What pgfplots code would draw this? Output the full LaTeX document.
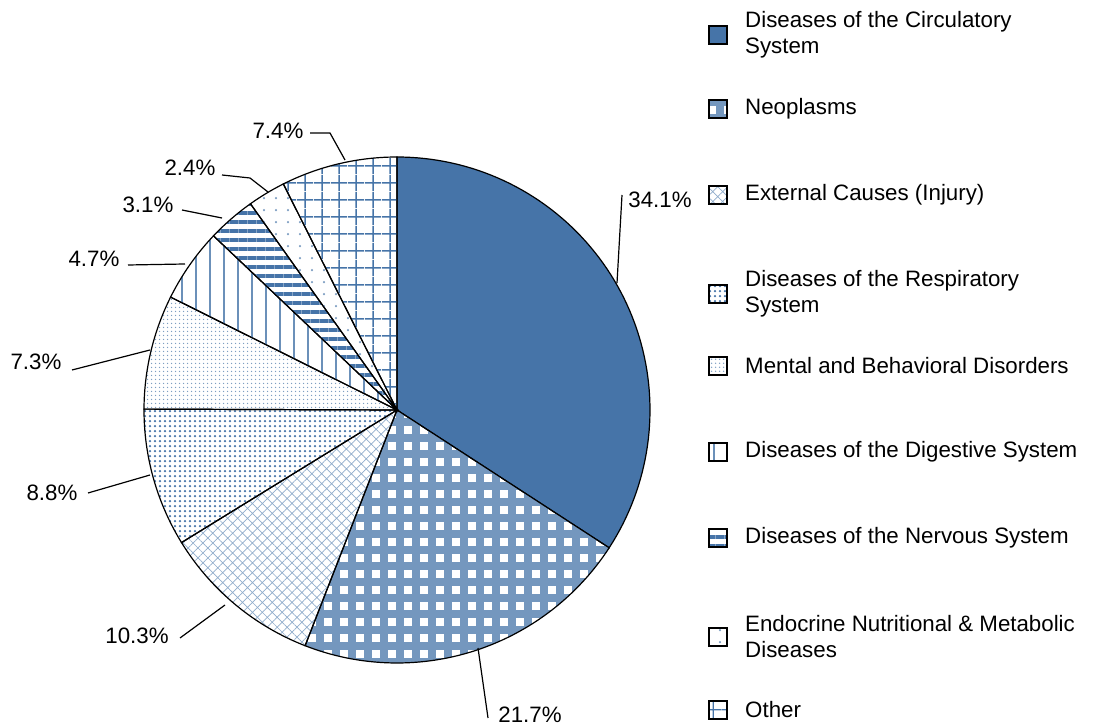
\documentclass[border=0pt]{standalone}
\usepackage{pgfplots}
\pgfplotsset{compat=1.18}
\usetikzlibrary{patterns,patterns.meta}
\usepackage{fontspec}
\setmainfont{Liberation Sans}
\definecolor{pblue}{HTML}{4674A8}
\tikzset{
 pA/.style={fill=pblue},
 pB/.style={pattern={Hatch[angle=0,distance=16pt,line width=8pt]},pattern color=pblue!75},
 pC/.style={pattern={Hatch[angle=45,distance=7pt,line width=0.7pt]},pattern color=pblue!60},
 pD/.style={pattern={Dots[distance=5pt,radius=1.3pt]},pattern color=pblue},
 pE/.style={pattern={Dots[distance=4pt,radius=0.9pt]},pattern color=pblue!70},
 pF/.style={pattern={Lines[angle=90,distance=14pt,line width=1.8pt]},pattern color=pblue!80},
 pG/.style={pattern={Lines[angle=0,distance=9pt,line width=3.5pt]},pattern color=pblue},
 pH/.style={pattern={Dots[distance=12pt,radius=1.2pt]},pattern color=pblue!70},
 pI/.style={pattern={Hatch[angle=0,distance=17pt,line width=1.5pt]},pattern color=pblue},
}
\newcommand{\slice}[3]{\addplot[draw=black,line width=1.2pt,#3,domain=#1:#2,samples=80] ({397+253*cos(x)},{313+253*sin(x)}) -- (axis cs:397,313) -- cycle;}
\begin{document}
\begin{tikzpicture}[font=\fontsize{22.3}{26}\selectfont]
\begin{axis}[width=1103pt,height=723pt,scale only axis,xmin=0,xmax=1103,ymin=0,ymax=723,
  axis line style={draw=none},ticks=none,clip=false]
\slice{-33.0}{90}{pA}
\slice{-111.3}{-33.0}{pB}
\slice{-148.4}{-111.3}{pC}
\slice{-180.2}{-148.4}{pD}
\slice{-206.5}{-180.2}{pE}
\slice{-223.5}{-206.5}{pF}
\slice{-234.6}{-223.5}{pG}
\slice{-243.3}{-234.6}{pH}
\slice{-270}{-243.3}{pI}
% leader lines
\addplot[black,line width=1.2pt] coordinates {(622,528) (617,440)};
\addplot[black,line width=1.2pt] coordinates {(488,5) (478,75)};
\addplot[black,line width=1.2pt] coordinates {(180,85) (225,118)};
\addplot[black,line width=1.2pt] coordinates {(88,230) (150,248)};
\addplot[black,line width=1.2pt] coordinates {(72,353) (150,373)};
\addplot[black,line width=1.2pt] coordinates {(128,458) (185,459)};
\addplot[black,line width=1.2pt] coordinates {(182,513) (222,505)};
\addplot[black,line width=1.2pt] coordinates {(222,548) (250,545) (268,531)};
\addplot[black,line width=1.2pt] coordinates {(310,590) (330,590) (345,563)};
\node at (axis cs:660,523) {34.1\%};
\node at (axis cs:530,8) {21.7\%};
\node at (axis cs:137,87) {10.3\%};
\node at (axis cs:52,230) {8.8\%};
\node at (axis cs:36,361) {7.3\%};
\node at (axis cs:94,464) {4.7\%};
\node at (axis cs:148,518) {3.1\%};
\node at (axis cs:190,555) {2.4\%};
\node at (axis cs:278,592) {7.4\%};
% legend
\newcommand{\leg}[3]{\draw[black,line width=1.2pt,#2] (axis cs:709,{723-#1-9}) rectangle (axis cs:727,{723-#1+9});
  \node[anchor=west,align=left,inner sep=0pt] at (axis cs:745,{723-#1}) {#3};}
\leg{35}{pA}{Diseases of the Circulatory\\System}
\leg{109}{pB}{Neoplasms}
\leg{195}{pC}{External Causes (Injury)}
\leg{294}{pD}{Diseases of the Respiratory\\System}
\leg{366}{pE}{Mental and Behavioral Disorders}
\leg{452}{pF}{Diseases of the Digestive System}
\leg{538}{pG}{Diseases of the Nervous System}
\leg{637}{pH}{Endocrine Nutritional \& Metabolic\\Diseases}
\leg{710}{pI}{Other}
\end{axis}
\end{tikzpicture}
\end{document}
